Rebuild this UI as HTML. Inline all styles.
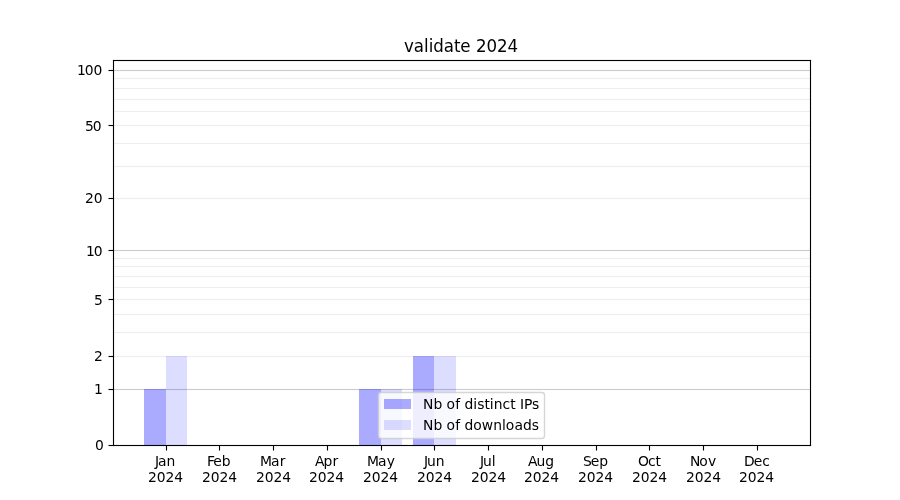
<!DOCTYPE html>
<html lang="en">
<head>
<meta charset="utf-8">
<title>validate 2024</title>
<style>
html,body{margin:0;padding:0;background:#fff;width:900px;height:500px;overflow:hidden}
svg{display:block;position:absolute;left:0;top:0}
text{font-family:"DejaVu Sans","Liberation Sans",sans-serif;fill:#000;white-space:pre}
.t10{font-size:13.8889px}
.t12{font-size:16.6667px}
</style>
</head>
<body>
<svg width="900" height="500" viewBox="0 0 900 500">
<rect width="900" height="500" fill="#fff"/>
<g id="grid-major" fill="#cccccc">
<rect x="113" y="389" width="697" height="1"/>
<rect x="113" y="388" width="697" height="1" opacity="0.0556"/>
<rect x="113" y="390" width="697" height="1" opacity="0.0556"/>
<rect x="113" y="250" width="697" height="1"/>
<rect x="113" y="249" width="697" height="1" opacity="0.0556"/>
<rect x="113" y="251" width="697" height="1" opacity="0.0556"/>
<rect x="113" y="70" width="697" height="1"/>
<rect x="113" y="69" width="697" height="1" opacity="0.0556"/>
<rect x="113" y="71" width="697" height="1" opacity="0.0556"/>
</g>
<g id="grid-minor" fill="#eeeeee">
<rect x="113" y="356" width="697" height="1"/>
<rect x="113" y="355" width="697" height="1" opacity="0.0556"/>
<rect x="113" y="357" width="697" height="1" opacity="0.0556"/>
<rect x="113" y="332" width="697" height="1"/>
<rect x="113" y="331" width="697" height="1" opacity="0.0556"/>
<rect x="113" y="333" width="697" height="1" opacity="0.0556"/>
<rect x="113" y="314" width="697" height="1"/>
<rect x="113" y="313" width="697" height="1" opacity="0.0556"/>
<rect x="113" y="315" width="697" height="1" opacity="0.0556"/>
<rect x="113" y="299" width="697" height="1"/>
<rect x="113" y="298" width="697" height="1" opacity="0.0556"/>
<rect x="113" y="300" width="697" height="1" opacity="0.0556"/>
<rect x="113" y="287" width="697" height="1"/>
<rect x="113" y="286" width="697" height="1" opacity="0.0556"/>
<rect x="113" y="288" width="697" height="1" opacity="0.0556"/>
<rect x="113" y="276" width="697" height="1"/>
<rect x="113" y="275" width="697" height="1" opacity="0.0556"/>
<rect x="113" y="277" width="697" height="1" opacity="0.0556"/>
<rect x="113" y="266" width="697" height="1"/>
<rect x="113" y="265" width="697" height="1" opacity="0.0556"/>
<rect x="113" y="267" width="697" height="1" opacity="0.0556"/>
<rect x="113" y="258" width="697" height="1"/>
<rect x="113" y="257" width="697" height="1" opacity="0.0556"/>
<rect x="113" y="259" width="697" height="1" opacity="0.0556"/>
<rect x="113" y="198" width="697" height="1"/>
<rect x="113" y="197" width="697" height="1" opacity="0.0556"/>
<rect x="113" y="199" width="697" height="1" opacity="0.0556"/>
<rect x="113" y="166" width="697" height="1"/>
<rect x="113" y="165" width="697" height="1" opacity="0.0556"/>
<rect x="113" y="167" width="697" height="1" opacity="0.0556"/>
<rect x="113" y="143" width="697" height="1"/>
<rect x="113" y="142" width="697" height="1" opacity="0.0556"/>
<rect x="113" y="144" width="697" height="1" opacity="0.0556"/>
<rect x="113" y="125" width="697" height="1"/>
<rect x="113" y="124" width="697" height="1" opacity="0.0556"/>
<rect x="113" y="126" width="697" height="1" opacity="0.0556"/>
<rect x="113" y="111" width="697" height="1"/>
<rect x="113" y="110" width="697" height="1" opacity="0.0556"/>
<rect x="113" y="112" width="697" height="1" opacity="0.0556"/>
<rect x="113" y="99" width="697" height="1"/>
<rect x="113" y="98" width="697" height="1" opacity="0.0556"/>
<rect x="113" y="100" width="697" height="1" opacity="0.0556"/>
<rect x="113" y="88" width="697" height="1"/>
<rect x="113" y="87" width="697" height="1" opacity="0.0556"/>
<rect x="113" y="89" width="697" height="1" opacity="0.0556"/>
<rect x="113" y="78" width="697" height="1"/>
<rect x="113" y="77" width="697" height="1" opacity="0.0556"/>
<rect x="113" y="79" width="697" height="1" opacity="0.0556"/>
</g>
<g id="bars-ips" fill="#0000ff" fill-opacity="0.3333">
<rect x="144" y="389" width="22" height="56"/>
<rect x="359" y="389" width="22" height="56"/>
<rect x="413" y="356" width="21" height="89"/>
</g>
<g id="bars-downloads" fill="#0000ff" fill-opacity="0.1333">
<rect x="166" y="356" width="21" height="89"/>
<rect x="381" y="389" width="21" height="56"/>
<rect x="434" y="356" width="22" height="89"/>
</g>
<g id="xticks" fill="#000">
<rect x="166" y="445.5" width="1" height="5"/>
<rect x="165" y="445.5" width="1" height="5" opacity="0.0556"/>
<rect x="167" y="445.5" width="1" height="5" opacity="0.0556"/>
<rect x="219" y="445.5" width="1" height="5"/>
<rect x="218" y="445.5" width="1" height="5" opacity="0.0556"/>
<rect x="220" y="445.5" width="1" height="5" opacity="0.0556"/>
<rect x="273" y="445.5" width="1" height="5"/>
<rect x="272" y="445.5" width="1" height="5" opacity="0.0556"/>
<rect x="274" y="445.5" width="1" height="5" opacity="0.0556"/>
<rect x="327" y="445.5" width="1" height="5"/>
<rect x="326" y="445.5" width="1" height="5" opacity="0.0556"/>
<rect x="328" y="445.5" width="1" height="5" opacity="0.0556"/>
<rect x="381" y="445.5" width="1" height="5"/>
<rect x="380" y="445.5" width="1" height="5" opacity="0.0556"/>
<rect x="382" y="445.5" width="1" height="5" opacity="0.0556"/>
<rect x="434" y="445.5" width="1" height="5"/>
<rect x="433" y="445.5" width="1" height="5" opacity="0.0556"/>
<rect x="435" y="445.5" width="1" height="5" opacity="0.0556"/>
<rect x="488" y="445.5" width="1" height="5"/>
<rect x="487" y="445.5" width="1" height="5" opacity="0.0556"/>
<rect x="489" y="445.5" width="1" height="5" opacity="0.0556"/>
<rect x="542" y="445.5" width="1" height="5"/>
<rect x="541" y="445.5" width="1" height="5" opacity="0.0556"/>
<rect x="543" y="445.5" width="1" height="5" opacity="0.0556"/>
<rect x="596" y="445.5" width="1" height="5"/>
<rect x="595" y="445.5" width="1" height="5" opacity="0.0556"/>
<rect x="597" y="445.5" width="1" height="5" opacity="0.0556"/>
<rect x="649" y="445.5" width="1" height="5"/>
<rect x="648" y="445.5" width="1" height="5" opacity="0.0556"/>
<rect x="650" y="445.5" width="1" height="5" opacity="0.0556"/>
<rect x="703" y="445.5" width="1" height="5"/>
<rect x="702" y="445.5" width="1" height="5" opacity="0.0556"/>
<rect x="704" y="445.5" width="1" height="5" opacity="0.0556"/>
<rect x="757" y="445.5" width="1" height="5"/>
<rect x="756" y="445.5" width="1" height="5" opacity="0.0556"/>
<rect x="758" y="445.5" width="1" height="5" opacity="0.0556"/>
</g>
<g id="yticks" fill="#000">
<rect x="108.5" y="445" width="5" height="1"/>
<rect x="108.5" y="444" width="5" height="1" opacity="0.0556"/>
<rect x="108.5" y="446" width="5" height="1" opacity="0.0556"/>
<rect x="108.5" y="389" width="5" height="1"/>
<rect x="108.5" y="388" width="5" height="1" opacity="0.0556"/>
<rect x="108.5" y="390" width="5" height="1" opacity="0.0556"/>
<rect x="108.5" y="356" width="5" height="1"/>
<rect x="108.5" y="355" width="5" height="1" opacity="0.0556"/>
<rect x="108.5" y="357" width="5" height="1" opacity="0.0556"/>
<rect x="108.5" y="299" width="5" height="1"/>
<rect x="108.5" y="298" width="5" height="1" opacity="0.0556"/>
<rect x="108.5" y="300" width="5" height="1" opacity="0.0556"/>
<rect x="108.5" y="250" width="5" height="1"/>
<rect x="108.5" y="249" width="5" height="1" opacity="0.0556"/>
<rect x="108.5" y="251" width="5" height="1" opacity="0.0556"/>
<rect x="108.5" y="198" width="5" height="1"/>
<rect x="108.5" y="197" width="5" height="1" opacity="0.0556"/>
<rect x="108.5" y="199" width="5" height="1" opacity="0.0556"/>
<rect x="108.5" y="125" width="5" height="1"/>
<rect x="108.5" y="124" width="5" height="1" opacity="0.0556"/>
<rect x="108.5" y="126" width="5" height="1" opacity="0.0556"/>
<rect x="108.5" y="70" width="5" height="1"/>
<rect x="108.5" y="69" width="5" height="1" opacity="0.0556"/>
<rect x="108.5" y="71" width="5" height="1" opacity="0.0556"/>
</g>
<g id="spines" fill="#000">
<rect x="113" y="59.944" width="1" height="386.111"/>
<rect x="112" y="59.944" width="1" height="386.111" opacity="0.0556"/>
<rect x="114" y="59.944" width="1" height="386.111" opacity="0.0556"/>
<rect x="810" y="59.944" width="1" height="386.111"/>
<rect x="809" y="59.944" width="1" height="386.111" opacity="0.0556"/>
<rect x="811" y="59.944" width="1" height="386.111" opacity="0.0556"/>
<rect x="112.944" y="445" width="698.111" height="1"/>
<rect x="112.944" y="444" width="698.111" height="1" opacity="0.0556"/>
<rect x="112.944" y="446" width="698.111" height="1" opacity="0.0556"/>
<rect x="112.944" y="60" width="698.111" height="1"/>
<rect x="112.944" y="59" width="698.111" height="1" opacity="0.0556"/>
<rect x="112.944" y="61" width="698.111" height="1" opacity="0.0556"/>
</g>
<g id="xlabels">
<text class="t10" x="155 158 166.5" y="466">Jan</text>
<text class="t10" x="148 156.75 165.5 174.25" y="482">2024</text>
<text class="t10" x="207 213.25 221.75" y="466">Feb</text>
<text class="t10" x="202 210.75 219.5 228.25" y="482">2024</text>
<text class="t10" x="260 271 279.75" y="466">Mar</text>
<text class="t10" x="256 264.75 273.5 282.25" y="482">2024</text>
<text class="t10" x="315 323.5 332.5" y="466">Apr</text>
<text class="t10" x="309 317.75 326.5 335.25" y="482">2024</text>
<text class="t10" x="367 378 386.75" y="466">May</text>
<text class="t10" x="363 371.75 380.5 389.25" y="482">2024</text>
<text class="t10" x="424 427 435.75" y="466">Jun</text>
<text class="t10" x="417 425.75 434.5 443.25" y="482">2024</text>
<text class="t10" x="480 483 491.75" y="466">Jul</text>
<text class="t10" x="471 479.75 488.5 497.25" y="482">2024</text>
<text class="t10" x="528 536.5 545.25" y="466">Aug</text>
<text class="t10" x="524 532.75 541.5 550.25" y="482">2024</text>
<text class="t10" x="583 590.75 599.25" y="466">Sep</text>
<text class="t10" x="578 586.75 595.5 604.25" y="482">2024</text>
<text class="t10" x="638 648 655.5" y="466">Oct</text>
<text class="t10" x="632 640.75 649.5 658.25" y="482">2024</text>
<text class="t10" x="690 699.25 708" y="466">Nov</text>
<text class="t10" x="686 694.75 703.5 712.25" y="482">2024</text>
<text class="t10" x="744 753.75 762.25" y="466">Dec</text>
<text class="t10" x="739 747.75 756.5 765.25" y="482">2024</text>
</g>
<g id="ylabels">
<text class="t10" x="95" y="450">0</text>
<text class="t10" x="94" y="394">1</text>
<text class="t10" x="94" y="361">2</text>
<text class="t10" x="94" y="305">5</text>
<text class="t10" x="86 93.75" y="256">10</text>
<text class="t10" x="85 93.75" y="203">20</text>
<text class="t10" x="85 92.75" y="131">50</text>
<text class="t10" x="77 84.75 93.5" y="75">100</text>
</g>
<text id="title" class="t12" transform="translate(0 52) scale(1 1.07)" x="404 413.75 424 428.75 433.25 443.75 454 460.25 470.75 476 486.5 497 507.5" y="0">validate 2024</text>
<g id="legend">
<path d="M381.278 438.5H541.722Q544.5 438.5 544.5 435.722V395.278Q544.5 392.5 541.722 392.5H381.278Q378.5 392.5 378.5 395.278V435.722Q378.5 438.5 381.278 438.5Z" fill="#fff" fill-opacity="0.8" stroke="#ccc" stroke-opacity="0.8" stroke-width="1.3889"/>
<rect x="384" y="399" width="27" height="10" fill="#00f" fill-opacity="0.3333"/>
<rect x="384" y="420" width="27" height="10" fill="#00f" fill-opacity="0.1333"/>
<text class="t10" x="423 433.5 442.25 446.5 455.25 460 464.5 473.25 477.25 484.5 489.75 493.75 502.5 510.25 515.5 520 524 532" y="409">Nb of distinct IPs</text>
<text class="t10" x="423 433.5 442.25 446.5 455.25 460.25 464.5 473.25 481.75 493.25 502 505.75 514.5 523 531.75" y="430">Nb of downloads</text>
</g>
</svg>
</body>
</html>
